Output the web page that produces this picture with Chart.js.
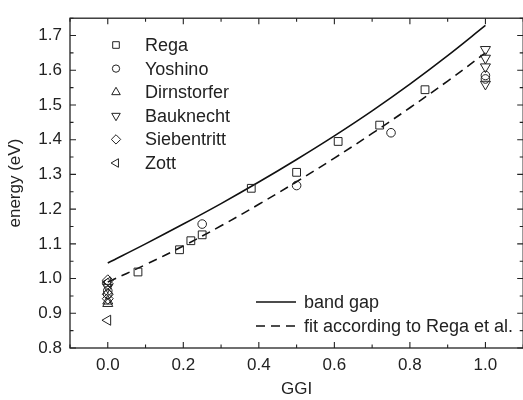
<!DOCTYPE html>
<html><head><meta charset="utf-8">
<script src="https://cdn.jsdelivr.net/npm/chart.js@4/dist/chart.umd.min.js"></script>
<style>html,body{margin:0;padding:0;overflow:hidden;background:#fff}#wrap{width:530px;height:400px;position:relative}</style>
</head><body><div id="wrap"><canvas id="c"></canvas></div>
<script>
// ---- data ----
const curveGGI = [0, 0.1, 0.2, 0.3, 0.4, 0.5, 0.6, 0.7, 0.8, 0.9, 1.0];
const bandGap  = [1.045, 1.100, 1.157, 1.216, 1.278, 1.343, 1.411, 1.483, 1.560, 1.642, 1.729];
const regaFit  = [0.990, 1.040, 1.094, 1.152, 1.214, 1.279, 1.347, 1.418, 1.492, 1.569, 1.650];

const regaGGI = [0.08, 0.19, 0.22, 0.25, 0.38, 0.50, 0.61, 0.72, 0.84];
const regaE   = [1.019, 1.083, 1.109, 1.126, 1.26, 1.306, 1.395, 1.442, 1.544];
const yoshinoGGI = [0, 0, 0.25, 0.50, 0.75, 1.0, 1.0];
const yoshinoE   = [0.965, 0.955, 1.157, 1.268, 1.42, 1.585, 1.575];
const dirnGGI = [0, 0];
const dirnE   = [0.935, 0.928];
const baukGGI = [0, 1.0, 1.0, 1.0, 1.0];
const baukE   = [0.975, 1.66, 1.635, 1.61, 1.56];
const siebGGI = [0, 0, 0, 0];
const siebE   = [0.995, 0.985, 0.955, 0.942];
const zottGGI = [0, 0];
const zottE   = [0.99, 0.88];

const xTicks = [0, 0.2, 0.4, 0.6, 0.8, 1.0];
const xTickLabels = ['0.0', '0.2', '0.4', '0.6', '0.8', '1.0'];
const yTicks = [0.8, 0.9, 1.0, 1.1, 1.2, 1.3, 1.4, 1.5, 1.6, 1.7];
const yTickLabels = ['0.8', '0.9', '1.0', '1.1', '1.2', '1.3', '1.4', '1.5', '1.6', '1.7'];
const seriesNames = ['Rega', 'Yoshino', 'Dirnstorfer', 'Bauknecht', 'Siebentritt', 'Zott'];
const lineNames = ['band gap', 'fit according to Rega et al.'];

const INK = '#222';
const FONT = 'Liberation Sans, Arial, sans-serif';
const zip = (xs, ys) => xs.map((x, i) => ({x: x, y: ys[i]}));

function scatterSet(label, xs, ys, style, radius, rotation) {
  return {type: 'scatter', label: label, data: zip(xs, ys), pointStyle: style,
    pointRadius: radius, pointRotation: rotation || 0, pointBorderWidth: 1,
    borderColor: INK, backgroundColor: 'rgba(0,0,0,0)', pointBackgroundColor: 'rgba(0,0,0,0)',
    pointBorderColor: INK, showLine: false, pointHoverRadius: radius};
}

const datasets = [
  scatterSet(seriesNames[0], regaGGI, regaE, 'rect', 5.5),
  scatterSet(seriesNames[1], yoshinoGGI, yoshinoE, 'circle', 4.3),
  scatterSet(seriesNames[2], dirnGGI, dirnE, 'triangle', 5.8, 0),
  scatterSet(seriesNames[3], baukGGI, baukE, 'triangle', 5.8, 180),
  scatterSet(seriesNames[4], siebGGI, siebE, 'rectRot', 5.5),
  scatterSet(seriesNames[5], zottGGI, zottE, 'triangle', 5.8, -90),
  {type: 'line', label: lineNames[0], data: zip(curveGGI, bandGap), borderColor: '#111',
    borderWidth: 1.6, pointRadius: 0, fill: false, tension: 0.4},
  {type: 'line', label: lineNames[1], data: zip(curveGGI, regaFit), borderColor: '#111',
    borderWidth: 1.6, borderDash: [9, 6], pointRadius: 0, fill: false, tension: 0.4}
];

const framePlugin = {
  id: 'frame',
  afterDraw(chart) {
    const ctx = chart.ctx, a = chart.chartArea;
    const xs = chart.scales.x, ys = chart.scales.y;
    ctx.save();
    ctx.strokeStyle = INK; ctx.lineWidth = 1.3;
    ctx.strokeRect(a.left, a.top, a.right - a.left, a.bottom - a.top);
    ctx.lineWidth = 1.1;
    ctx.beginPath();
    for (let v = -0.1; v <= 1.1001; v += 0.1) {
      const r = Math.round(v * 10) / 10;
      const px = xs.getPixelForValue(r);
      const len = (Math.round(r * 10) % 2 === 0) ? 6 : 3.5;
      ctx.moveTo(px, a.bottom); ctx.lineTo(px, a.bottom - len);
      ctx.moveTo(px, a.top); ctx.lineTo(px, a.top + len);
    }
    for (let v = 0.8; v <= 1.7501; v += 0.05) {
      const r = Math.round(v * 100) / 100;
      const py = ys.getPixelForValue(r);
      const len = (Math.round(r * 100) % 10 === 0) ? 6 : 3.5;
      ctx.moveTo(a.left, py); ctx.lineTo(a.left + len, py);
      ctx.moveTo(a.right, py); ctx.lineTo(a.right - len, py);
    }
    ctx.stroke();

    // legend for markers (upper left)
    ctx.font = '18px ' + FONT;
    ctx.textBaseline = 'middle';
    for (let i = 0; i < 6; i++) {
      const ds = chart.data.datasets[i];
      const y = 45 + i * 23.6;
      ctx.fillStyle = 'rgba(0,0,0,0)';
      ctx.strokeStyle = INK;
      ctx.lineWidth = 1;
      Chart.helpers.drawPoint(ctx, {pointStyle: ds.pointStyle, radius: ds.pointRadius * 0.85,
        rotation: ds.pointRotation, borderWidth: 1}, 116, y);
      ctx.fillStyle = INK;
      ctx.fillText(ds.label, 145, y + 1);
    }
    // legend for lines (lower right)
    const lx0 = 256, lx1 = 296, tx = 304;
    const rows = [302, 326];
    ctx.lineWidth = 1.6;
    ctx.strokeStyle = '#111';
    ctx.fillStyle = INK;
    for (let j = 0; j < 2; j++) {
      const ds = chart.data.datasets[6 + j];
      ctx.setLineDash(ds.borderDash || []);
      ctx.beginPath(); ctx.moveTo(lx0, rows[j]); ctx.lineTo(lx1, rows[j]); ctx.stroke();
      ctx.setLineDash([]);
      ctx.fillText(ds.label, tx, rows[j] + 1);
    }
    ctx.restore();
  }
};

new Chart(document.getElementById('c'), {
  type: 'scatter',
  data: {datasets: datasets},
  options: {
    responsive: true, maintainAspectRatio: false, animation: false,
    layout: {padding: {top: 14, right: 5, left: 0, bottom: 0}},
    plugins: {legend: {display: false}, tooltip: {enabled: false}},
    scales: {
      x: {type: 'linear', min: -0.1, max: 1.1,
        grid: {display: false, drawTicks: false}, border: {display: false},
        afterBuildTicks: s => { s.ticks = xTicks.map(v => ({value: v})); },
        afterFit: s => { s.height = 52; },
        ticks: {color: INK, font: {family: FONT, size: 17}, padding: 7,
          callback: (v, i) => xTickLabels[i]},
        title: {display: true, text: 'GGI', color: INK, font: {family: FONT, size: 17},
          padding: {top: 0, bottom: 0}}},
      y: {type: 'linear', min: 0.8, max: 1.75,
        grid: {display: false, drawTicks: false}, border: {display: false},
        afterBuildTicks: s => { s.ticks = yTicks.map(v => ({value: v})); },
        afterFit: s => { s.width = 70; },
        ticks: {color: INK, font: {family: FONT, size: 17}, padding: 8,
          callback: (v, i) => yTickLabels[i]},
        title: {display: true, text: 'energy (eV)', color: INK, font: {family: FONT, size: 17},
          padding: {top: 5, bottom: 0}}}
    }
  },
  plugins: [framePlugin]
});
</script></body></html>
